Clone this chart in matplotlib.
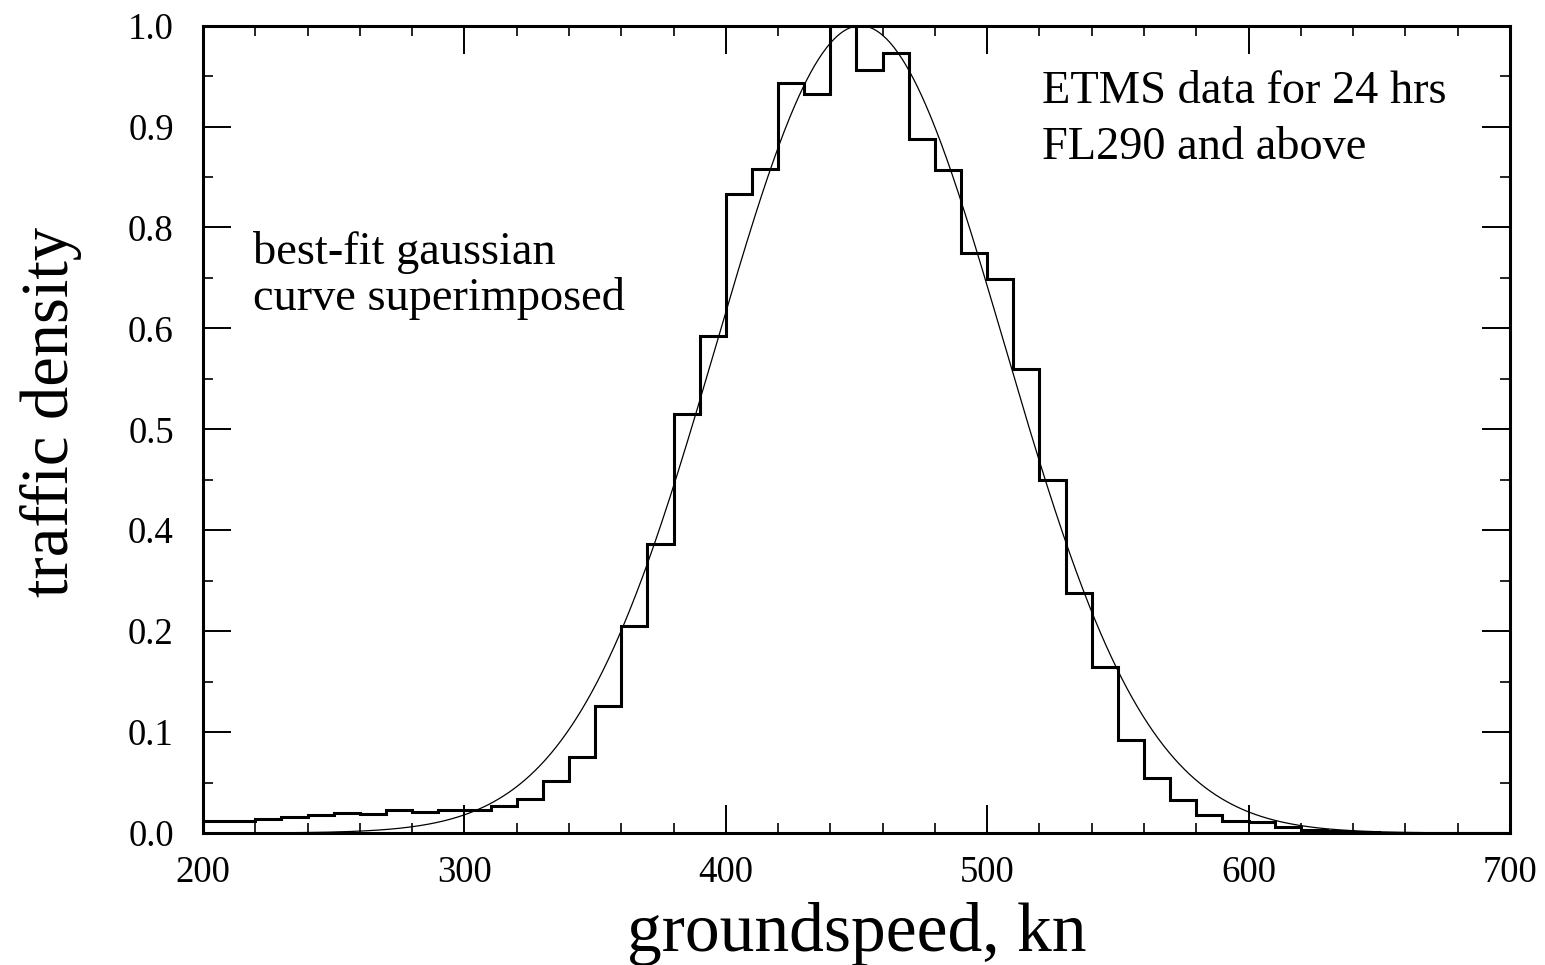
import numpy as np
import matplotlib
matplotlib.use("Agg")
import matplotlib.pyplot as plt
from matplotlib.ticker import MultipleLocator, FormatStrFormatter

plt.rcParams['font.family'] = ['Liberation Serif', 'DejaVu Serif']

# histogram bins (groundspeed, kn) and normalised traffic density
bin_edges = np.arange(200, 710, 10)
density = [0.015, 0.0145, 0.017, 0.020, 0.022, 0.025, 0.023, 0.0285, 0.026, 0.0285,
           0.028, 0.034, 0.0425, 0.064, 0.094, 0.157, 0.2565, 0.358, 0.519, 0.615,
           0.792, 0.822, 0.9285, 0.915, 1.0, 0.945, 0.966, 0.86, 0.821, 0.719,
           0.686, 0.575, 0.437, 0.297, 0.205, 0.115, 0.068, 0.0405, 0.0223, 0.0153,
           0.013, 0.007, 0.004, 0.002, 0.001, 0.0, 0.0, 0.0, 0.0, 0.0]

# best-fit gaussian parameters
fit_mean = 451.5
fit_sigma = 55.0
fit_amp = 1.0

fig = plt.figure(figsize=(15.45, 9.65), dpi=100)
ax = fig.add_axes([0.1314, 0.1368, 0.8459, 0.8366])

ax.stairs(density, bin_edges, color='black', lw=2.2)

xs = np.linspace(200, 700, 1001)
ax.plot(xs, fit_amp * np.exp(-(xs - fit_mean) ** 2 / (2 * fit_sigma ** 2)),
        color='black', lw=0.9)

ax.set_xlim(200, 700)
ax.set_ylim(0, 1)

ax.xaxis.set_major_locator(MultipleLocator(100))
ax.xaxis.set_minor_locator(MultipleLocator(20))
ax.yaxis.set_major_locator(MultipleLocator(0.125))
ax.yaxis.set_minor_locator(MultipleLocator(0.0625))
ax.yaxis.set_major_formatter(FormatStrFormatter('%.1f'))

ax.tick_params(which='both', direction='in', top=True, right=True, labelsize=26.5)
ax.tick_params(which='major', length=20, width=1.4)
ax.tick_params(which='minor', length=7, width=1.2)
ax.tick_params(axis='x', which='major', pad=16)
ax.tick_params(axis='y', which='major', pad=21)

for s in ax.spines.values():
    s.set_linewidth(2.2)

ax.set_xlabel('groundspeed, kn', fontsize=50, labelpad=9)
fig.text(0.0327, 0.5734, 'traffic density', fontsize=48, rotation=90,
         ha='center', va='center')

ax.text(0.642, 0.944, 'ETMS data for 24 hrs\nFL290 and above', transform=ax.transAxes,
        fontsize=33.4, va='top', ha='left', linespacing=1.4)
ax.text(0.038, 0.746, 'best-fit gaussian\ncurve superimposed', transform=ax.transAxes,
        fontsize=33.4, va='top', ha='left', linespacing=1.1)

fig.savefig('out.png', dpi=100)
